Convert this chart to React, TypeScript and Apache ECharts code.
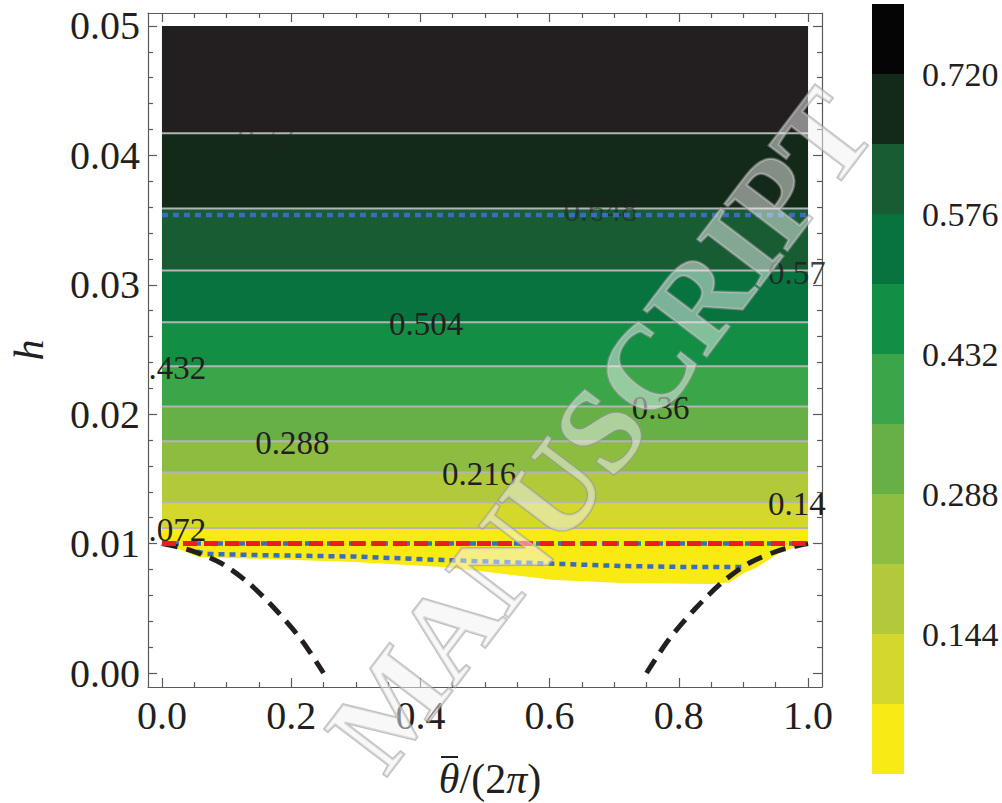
import React, { useEffect, useRef } from "react";
import * as echarts from "echarts";

const FONT = '"Liberation Serif", "Times New Roman", serif';

// Axis ticks
const xTicks = [0, 0.2, 0.4, 0.6, 0.8, 1.0];
const xMinorTicks = [0.05, 0.1, 0.15, 0.25, 0.3, 0.35, 0.45, 0.5, 0.55, 0.65, 0.7, 0.75, 0.85, 0.9, 0.95];
const yTicks = [0, 0.01, 0.02, 0.03, 0.04, 0.05];
const yMinorTicks = [0.002, 0.004, 0.006, 0.008, 0.012, 0.014, 0.016, 0.018, 0.022, 0.024, 0.026, 0.028,
  0.032, 0.034, 0.036, 0.038, 0.042, 0.044, 0.046, 0.048];

// Contour levels and the heights h at which they lie (horizontal contours)
const contourLevels = [0.72, 0.648, 0.576, 0.504, 0.432, 0.36, 0.288, 0.216, 0.144, 0.072];
const contourH = [0.0417, 0.0359, 0.0311, 0.0271, 0.0237, 0.0206, 0.0179, 0.0155, 0.0132, 0.0112];
const hTop = 0.05;
const bandColors = ["#231f20", "#142a19", "#175c33", "#07733e", "#138f45", "#3aa649", "#67b045", "#8dbd40", "#b2c93a", "#d3d82a", "#f8ea12"];

// Lowest (yellow) band outline: top edge at the 0.072 contour, lower edge irregular
const yellowOutline: number[][] = [
  [0, 0.0112], [1, 0.0112], [1, 0.01], [0.96, 0.0094], [0.918, 0.0081], [0.9, 0.0077], [0.878, 0.0070],
  [0.849, 0.00688], [0.711, 0.00696], [0.608, 0.00719], [0.505, 0.0078], [0.435, 0.00819],
  [0.298, 0.00858], [0.16, 0.00881], [0.057, 0.00896], [0.02, 0.0097], [0, 0.01],
];

// Contour labels
const labelTexts = ["0.72", "0.648", "0.57", "0.504", ".432", "0.36", "0.288", "0.216", "0.14", ".072"];
const labelX = [0.162, 0.679, 0.938, 0.409, -0.021, 0.772, 0.202, 0.491, 0.938, -0.021];
const labelAlign = ["center", "center", "left", "center", "left", "center", "center", "center", "left", "left"];
const labelOpacity = [0.35, 0.55, 0.85, 1, 1, 1, 1, 1, 1, 1];

// Lines
const blueUpperH = 0.0354;
const blueUpper = [[0, blueUpperH], [1, blueUpperH]];
const lineAt001 = [[0, 0.01], [1, 0.01]];
const blueLower = [
  [0.054, 0.0094], [0.07, 0.0092], [0.16, 0.0091], [0.3, 0.009], [0.435, 0.00873],
  [0.574, 0.0085], [0.711, 0.00827], [0.8, 0.0082], [0.903, 0.0082],
];
const blackLeft = [
  [0, 0.01], [0.043, 0.0095], [0.091, 0.0085], [0.133, 0.0070], [0.174, 0.0050], [0.216, 0.00255], [0.25, 0],
];
const blackRight = [
  [0.75, 0], [0.784, 0.00255], [0.826, 0.0050], [0.867, 0.0070], [0.909, 0.0085], [0.957, 0.0095], [1, 0.01],
];

// Colorbar
const colorbarEdges = [0, 0.072, 0.144, 0.216, 0.288, 0.36, 0.432, 0.504, 0.576, 0.648, 0.72, 0.792];
const colorbarColors = ["#f8ea14", "#d3d82a", "#b3c93b", "#8dbe41", "#67b045", "#3aa649", "#138f45", "#07733e", "#175c33", "#13291a", "#050505"];
const colorbarTicks = [0.144, 0.288, 0.432, 0.576, 0.72];

const X_MIN = -0.0216, X_MAX = 1.0216;
const Y_MIN = -0.00108, Y_MAX = 0.051;
const FRAME = "#5a5a5a";
const INK = "#231f20";

function xAxisDef(position: string, ticks: number[], len: number, withLabel: boolean, withLine: boolean) {
  return {
    type: "value", gridIndex: 0, position, min: X_MIN, max: X_MAX,
    axisLine: { show: withLine, onZero: false, lineStyle: { color: FRAME, width: 1.2 } },
    axisTick: { show: true, inside: true, length: len, customValues: ticks, lineStyle: { color: FRAME, width: 1.2 } },
    axisLabel: withLabel
      ? { show: true, customValues: ticks, formatter: (v: number) => v.toFixed(1), fontFamily: FONT, fontSize: 40, color: INK, margin: 8 }
      : { show: false },
    splitLine: { show: false },
  };
}
function yAxisDef(position: string, ticks: number[], len: number, withLabel: boolean, withLine: boolean, extra: any = {}) {
  return {
    type: "value", gridIndex: 0, position, min: Y_MIN, max: Y_MAX,
    axisLine: { show: withLine, onZero: false, lineStyle: { color: FRAME, width: 1.2 } },
    axisTick: { show: true, inside: true, length: len, customValues: ticks, lineStyle: { color: FRAME, width: 1.2 } },
    axisLabel: withLabel
      ? { show: true, customValues: ticks, formatter: (v: number) => v.toFixed(2), fontFamily: FONT, fontSize: 40, color: INK, margin: 8 }
      : { show: false },
    splitLine: { show: false },
    ...extra,
  };
}

export default function App() {
  const ref = useRef<HTMLDivElement>(null);
  useEffect(() => {
    if (!ref.current) return;
    const chart = echarts.init(ref.current, null, { renderer: "svg" });

    const bandData: number[][] = [[contourH[0], hTop]];
    for (let i = 1; i < contourH.length; i++) bandData.push([contourH[i], contourH[i - 1]]);

    const cbData: number[][] = [];
    for (let i = 0; i < colorbarColors.length; i++) cbData.push([colorbarEdges[i], colorbarEdges[i + 1]]);

    const dotted = [6, 5];

    const option: any = {
      animation: false,
      backgroundColor: "#ffffff",
      grid: [
        { left: 146, right: 180, top: 13, bottom: 116 },
        { left: 872, width: 32, top: 4, height: 770 },
      ],
      xAxis: [
        xAxisDef("bottom", xTicks, 9, true, true),
        xAxisDef("bottom", xMinorTicks, 5, false, false),
        xAxisDef("top", xTicks, 9, false, true),
        xAxisDef("top", xMinorTicks, 5, false, false),
        { type: "value", gridIndex: 1, min: 0, max: 1, show: false },
      ],
      yAxis: [
        yAxisDef("left", yTicks, 9, true, true, {
          name: "h", nameLocation: "middle", nameGap: 98,
          nameTextStyle: { fontFamily: FONT, fontStyle: "italic", fontSize: 42, color: INK },
        }),
        yAxisDef("left", yMinorTicks, 5, false, false),
        yAxisDef("right", yTicks, 9, false, true),
        yAxisDef("right", yMinorTicks, 5, false, false),
        {
          type: "value", gridIndex: 1, position: "right", min: 0, max: 0.792,
          axisLine: { show: false },
          axisTick: { show: true, inside: false, length: 6, customValues: colorbarTicks, lineStyle: { color: "#8a8a8a", width: 1 } },
          axisLabel: { show: true, customValues: colorbarTicks, formatter: (v: number) => v.toFixed(3), fontFamily: FONT, fontSize: 34, color: INK, margin: 18 },
          splitLine: { show: false },
        },
      ],
      series: [
        {
          type: "custom", name: "bands", xAxisIndex: 0, yAxisIndex: 0, z: 1,
          data: bandData,
          renderItem: (params: any, api: any) => {
            const lo = api.value(0), hi = api.value(1);
            const p0 = api.coord([0, hi]);
            const p1 = api.coord([1, lo]);
            return { type: "rect", shape: { x: p0[0], y: p0[1], width: p1[0] - p0[0], height: p1[1] - p0[1] }, style: { fill: bandColors[params.dataIndex] } };
          },
        },
        {
          type: "custom", name: "yellow", xAxisIndex: 0, yAxisIndex: 0, z: 1,
          data: yellowOutline,
          renderItem: (params: any, api: any) => {
            if (params.dataIndex !== 0) return null;
            const pts = yellowOutline.map((p) => api.coord(p));
            return { type: "polygon", shape: { points: pts }, style: { fill: bandColors[10] } };
          },
        },
        {
          type: "custom", name: "contours", xAxisIndex: 0, yAxisIndex: 0, z: 2,
          data: contourH.map((h, i) => [h, contourLevels[i]]),
          renderItem: (params: any, api: any) => {
            const h = api.value(0);
            const a = api.coord([0, h]);
            const b = api.coord([1, h]);
            return { type: "line", shape: { x1: a[0], y1: a[1], x2: b[0], y2: b[1] }, style: { stroke: "#b4b4b4", lineWidth: 2 } };
          },
        },
        {
          type: "custom", name: "contourLabels", xAxisIndex: 0, yAxisIndex: 0, z: 3,
          data: labelX.map((x, i) => [x, contourH[i]]),
          renderItem: (params: any, api: any) => {
            const i = params.dataIndex;
            const p = api.coord([api.value(0), api.value(1)]);
            return {
              type: "text", x: p[0], y: p[1] + 2,
              style: {
                text: labelTexts[i], fill: INK, opacity: labelOpacity[i],
                font: `33px ${FONT}`, align: labelAlign[i], verticalAlign: "middle",
                textAlign: labelAlign[i], textVerticalAlign: "middle",
              },
            };
          },
        },
        {
          type: "line", name: "blueUpper", data: blueUpper, showSymbol: false, symbol: "none", z: 5,
          lineStyle: { color: "#3a6cc0", width: 4.5, type: dotted, cap: "butt" },
        },
        {
          type: "line", name: "blueAt001", data: lineAt001, showSymbol: false, symbol: "none", z: 5,
          lineStyle: { color: "#3a6cc0", width: 4.5, type: dotted, cap: "butt" },
        },
        {
          type: "line", name: "redAt001", data: lineAt001, showSymbol: false, symbol: "none", z: 6,
          lineStyle: { color: "#ec1c24", width: 5, type: [14, 7], cap: "butt" },
        },
        {
          type: "line", name: "blueLower", data: blueLower, showSymbol: false, symbol: "none", z: 5,
          lineStyle: { color: "#3a6cc0", width: 4.5, type: dotted, cap: "butt" },
        },
        {
          type: "line", name: "blackLeft", data: blackLeft, showSymbol: false, symbol: "none", smooth: 0.3, z: 5,
          lineStyle: { color: INK, width: 5, type: [16, 9], cap: "butt" },
        },
        {
          type: "line", name: "blackRight", data: blackRight, showSymbol: false, symbol: "none", smooth: 0.3, z: 5,
          lineStyle: { color: INK, width: 5, type: [16, 9], cap: "butt" },
        },
        {
          type: "custom", name: "colorbar", xAxisIndex: 4, yAxisIndex: 4, z: 1,
          data: cbData,
          renderItem: (params: any, api: any) => {
            const lo = api.value(0), hi = api.value(1);
            const p0 = api.coord([0, hi]);
            const p1 = api.coord([1, lo]);
            return { type: "rect", shape: { x: p0[0], y: p0[1], width: p1[0] - p0[0], height: p1[1] - p0[1] }, style: { fill: colorbarColors[params.dataIndex] } };
          },
        },
      ],
      graphic: [
        // x-axis title: θ̄/(2π)
        {
          type: "text", x: 490, y: 779, z: 50, silent: true,
          style: {
            text: "{it|θ}{rm|/(2}{it|π}{rm|)}",
            align: "center", verticalAlign: "middle", textAlign: "center", textVerticalAlign: "middle",
            rich: {
              it: { fontFamily: FONT, fontStyle: "italic", fontSize: 42, fill: INK, color: INK },
              rm: { fontFamily: FONT, fontSize: 42, fill: INK, color: INK },
            },
          },
        },
        { type: "line", z: 50, silent: true, shape: { x1: 441, y1: 757, x2: 458, y2: 757 }, style: { stroke: INK, lineWidth: 2 } },
        // watermark
        {
          type: "text", x: 600, y: 430, rotation: 0.92, z: 100, silent: true,
          style: {
            text: "MANUSCRIPT", font: `bold 120px ${FONT}`,
            fill: "rgba(242,242,242,0.5)", stroke: "rgba(150,150,150,0.6)", lineWidth: 2.5,
            align: "center", verticalAlign: "middle", textAlign: "center", textVerticalAlign: "middle",
          },
        },
      ],
    };
    chart.setOption(option);
    return () => chart.dispose();
  }, []);
  return <div ref={ref} style={{ position: "fixed", left: 0, top: 0, width: 1002, height: 803 }} />;
}
